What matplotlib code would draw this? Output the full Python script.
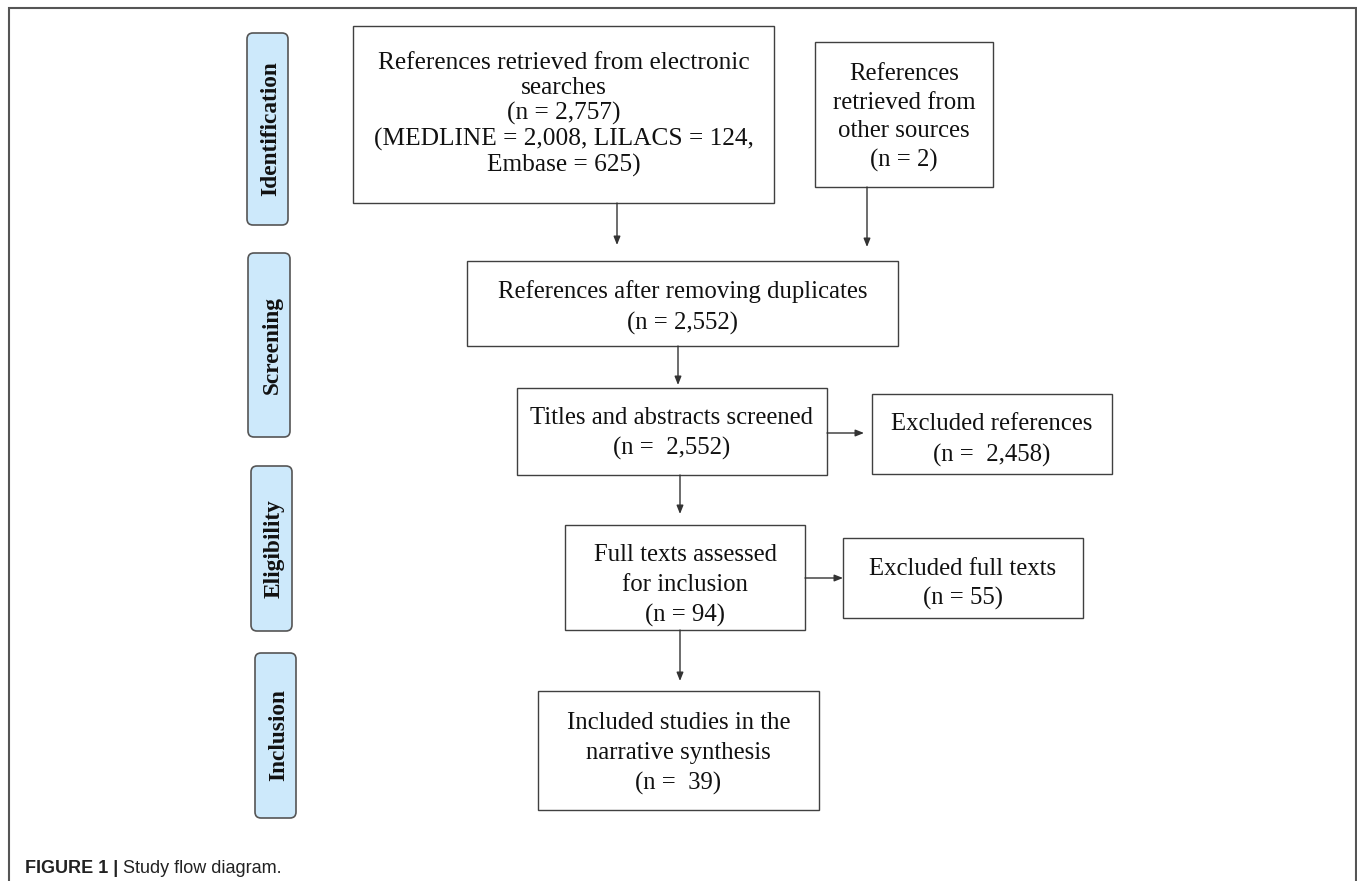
import matplotlib
matplotlib.use("Agg")
import matplotlib.pyplot as plt
from matplotlib.patches import Rectangle, FancyBboxPatch

# box texts of the flow diagram
box_texts = [
    "References retrieved from electronic\nsearches\n(n = 2,757)\n(MEDLINE = 2,008, LILACS = 124,\nEmbase = 625)",
    "References\nretrieved from\nother sources\n(n = 2)",
    "References after removing duplicates\n(n = 2,552)",
    "Titles and abstracts screened\n(n =  2,552)",
    "Excluded references\n(n =  2,458)",
    "Full texts assessed\nfor inclusion\n(n = 94)",
    "Excluded full texts\n(n = 55)",
    "Included studies in the\nnarrative synthesis\n(n =  39)",
]
stage_labels = ["Identification", "Screening", "Eligibility", "Inclusion"]
caption_bold = "FIGURE 1 |"
caption_rest = " Study flow diagram."

# layout in pixel coordinates (x0, y0, x1, y1), y going down
box_pos = [
    (353, 26, 774, 203),
    (815, 42, 993, 187),
    (467, 261, 898, 346),
    (517, 388, 827, 475),
    (872, 394, 1112, 474),
    (565, 525, 805, 630),
    (843, 538, 1083, 618),
    (538, 691, 819, 810),
]
# per box: font size, line spacing, vertical text shift
box_style = [
    (18.3, 1.17, 0),
    (17.8, 1.37, 3),
    (17.8, 1.47, 4),
    (17.8, 1.40, 2),
    (17.8, 1.47, 6),
    (17.8, 1.44, 8),
    (17.8, 1.44, 6),
    (17.8, 1.47, 3),
]
stage_pos = [
    (247, 33, 288, 225),
    (248, 253, 290, 437),
    (251, 466, 292, 631),
    (255, 653, 296, 818),
]
arrows = [
    ((617, 203), (617, 245)),
    ((867, 187), (867, 247)),
    ((678, 346), (678, 385)),
    ((827, 433), (864, 433)),
    ((680, 475), (680, 514)),
    ((805, 578), (843, 578)),
    ((680, 630), (680, 681)),
]

W, H = 1357, 881
fig = plt.figure(figsize=(W / 100, H / 100), dpi=100)
ax = fig.add_axes([0, 0, 1, 1])
ax.set_xlim(0, W)
ax.set_ylim(H, 0)
ax.axis("off")

# outer frame (left, top, right)
ax.plot([8.5, 8.5, 1355.5, 1355.5], [H, 7.5, 7.5, H], color="#555555", lw=1.5,
        solid_joinstyle="miter")

serif = ["Liberation Serif", "DejaVu Serif"]

for (x0, y0, x1, y1), txt, (fs, ls, dy) in zip(box_pos, box_texts, box_style):
    ax.add_patch(Rectangle((x0, y0), x1 - x0, y1 - y0, fill=False,
                           ec="#404040", lw=1.0))
    ax.text((x0 + x1) / 2, (y0 + y1) / 2 + dy, txt, ha="center", va="center",
            family=serif, fontsize=fs, linespacing=ls, color="#111111")

for (x0, y0, x1, y1), lab in zip(stage_pos, stage_labels):
    ax.add_patch(FancyBboxPatch((x0 + 6, y0 + 6), x1 - x0 - 12, y1 - y0 - 12,
                                boxstyle="round,pad=6", fc="#cde9fb",
                                ec="#555555", lw=1.2))
    ax.text((x0 + x1) / 2 + 3, (y0 + y1) / 2, lab, rotation=90, ha="center",
            va="center", family=serif, fontsize=16.8, fontweight="bold",
            color="#111111")

for (xa, ya), (xb, yb) in arrows:
    ax.annotate("", xy=(xb, yb), xytext=(xa, ya),
                arrowprops=dict(arrowstyle="-|>,head_length=0.5,head_width=0.2",
                                color="#333333", lw=1.0, shrinkA=0, shrinkB=0))

sans = ["Liberation Sans", "DejaVu Sans"]
t1 = ax.text(25, 873, caption_bold, family=sans, fontsize=13,
             fontweight="bold", color="#222222", va="baseline")
fig.canvas.draw()
bb = t1.get_window_extent(fig.canvas.get_renderer())
x_end = ax.transData.inverted().transform((bb.x1, bb.y0))[0]
ax.text(x_end, 873, caption_rest, family=sans, fontsize=13,
        color="#222222", va="baseline")

fig.savefig("out.png", dpi=100, facecolor="white")
